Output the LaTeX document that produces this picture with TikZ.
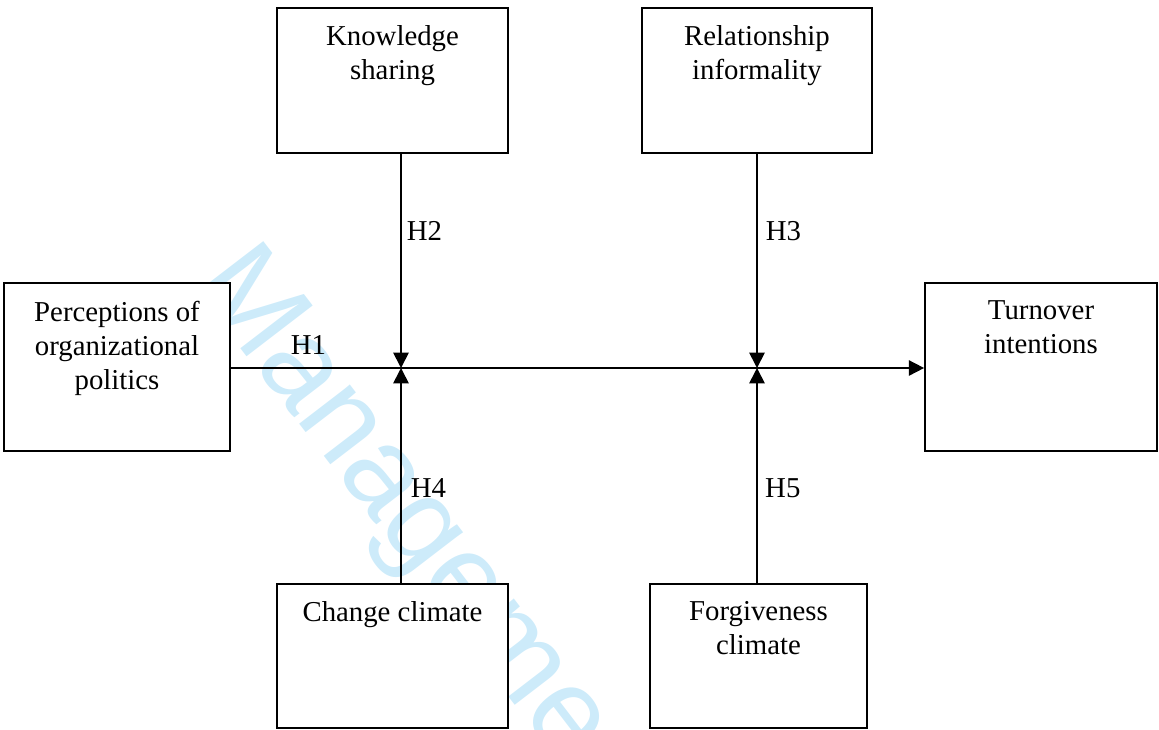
\documentclass[tikz,border=0pt]{standalone}
\usepackage{fontspec}
\setmainfont{Liberation Serif}
\newfontfamily\markfont{Liberation Sans}
\usetikzlibrary{arrows.meta,positioning}
\definecolor{markblue}{RGB}{205,235,250}

\begin{document}
\begin{tikzpicture}[
	x=0.75pt, y=-0.75pt,
	cell/.style={
		rectangle,
		draw,
		fill=white,
		line width=1.3pt,
		inner sep=0pt,
	},
	celltext/.style={
		font=\fontsize{21.6}{25.5}\selectfont,
		align=center,
		inner sep=0pt,
	},
	hyp/.style={
		font=\fontsize{21.6}{25.5}\selectfont,
		inner sep=0pt,
	},
	ArrowT/.style={% straight arrows with a filled tip
		-{Triangle[width=11.5pt,length=11.5pt]},
		line width=1.3pt,
	},
]
	\useasboundingbox (0,0) rectangle (1159,729);
	% watermark behind everything
	\begin{scope}
		\clip (0,0) rectangle (1159,729);
		\node [markblue, font=\markfont\fontsize{91}{91}\selectfont, rotate=-52.5, anchor=mid west, inner sep=0pt] (mark) at (194,282) {Manageme};
	\end{scope}

	\node [cell, minimum width=173.25pt, minimum height=108.75pt] (ks) at (392.5,80.5) {};
	\node [cell, minimum width=172.5pt, minimum height=108.75pt] (ri) at (757,80.5) {};
	\node [cell, minimum width=169.5pt, minimum height=126pt] (pop) at (117,367) {};
	\node [cell, minimum width=174pt, minimum height=126pt] (ti) at (1041,367) {};
	\node [cell, minimum width=173.25pt, minimum height=108pt] (cc) at (392.5,656) {};
	\node [cell, minimum width=162.75pt, minimum height=108pt] (fc) at (758.5,656) {};

	\node [celltext, anchor=north] (ks-txt) at ([yshift=-13.8pt]ks.north) {Knowledge\\sharing};
	\node [celltext, anchor=north] (ri-txt) at ([yshift=-13.8pt]ri.north) {Relationship\\informality};
	\node [celltext, anchor=north] (pop-txt) at ([yshift=-13.8pt]pop.north) {Perceptions of\\organizational\\politics};
	\node [celltext, anchor=north] (ti-txt) at ([yshift=-13.8pt]ti.north) {Turnover\\intentions};
	\node [celltext, anchor=north] (cc-txt) at ([yshift=-13.8pt]cc.north) {Change climate};
	\node [celltext, anchor=north] (fc-txt) at ([yshift=-13.8pt]fc.north) {Forgiveness\\climate};

	\coordinate (j1) at (401,368);
	\coordinate (j2) at (757,368);

	\draw [ArrowT] (pop.east |- j1) -- node[hyp, above=9.75pt, pos=0.112] (h1) {H1} (ti.west |- j1);
	\draw [ArrowT] (ks.south -| j1) -- node[hyp, right=3.75pt, pos=0.36] (h2) {H2} (j1);
	\draw [ArrowT] (ri.south -| j2) -- node[hyp, right=6pt, pos=0.36] (h3) {H3} (j2);
	\draw [ArrowT] (cc.north -| j1) -- node[hyp, right=6.75pt, pos=0.442] (h4) {H4} (j1);
	\draw [ArrowT] (fc.north -| j2) -- node[hyp, right=5.5pt, pos=0.442] (h5) {H5} (j2);
\end{tikzpicture}
\end{document}
